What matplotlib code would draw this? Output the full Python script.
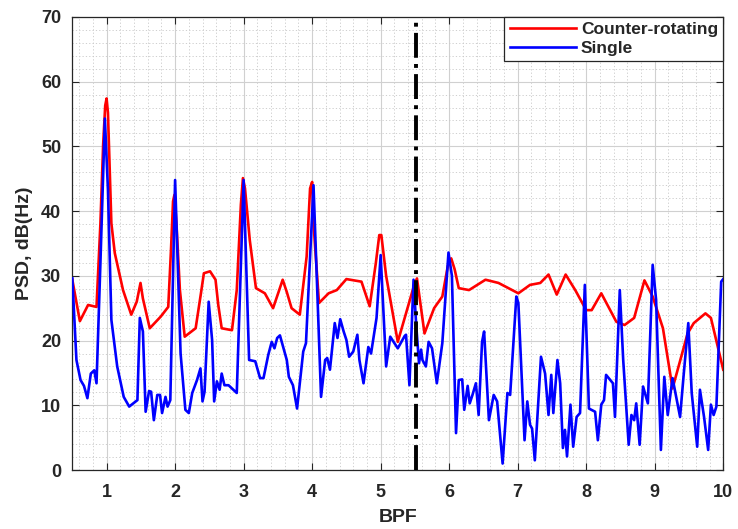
import numpy as np
import matplotlib
matplotlib.use('Agg')
import matplotlib.pyplot as plt
from matplotlib.ticker import MultipleLocator

## Values (BPF, PSD dB)
red_x = [0.50, 0.61, 0.73, 0.853, 0.91, 0.95, 0.98, 1.0, 1.02, 1.04, 1.07, 1.12, 1.24,
         1.36, 1.44, 1.495, 1.53, 1.63, 1.79, 1.90, 1.94, 1.97, 1.99, 2.02, 2.07, 2.14,
         2.30, 2.38, 2.42, 2.51, 2.59, 2.63, 2.68, 2.83, 2.90, 2.96, 2.99, 3.02, 3.09,
         3.18, 3.31, 3.43, 3.51, 3.57, 3.63, 3.70, 3.82, 3.92, 3.97, 4.0, 4.02, 4.10,
         4.24, 4.36, 4.50, 4.72, 4.84, 4.93, 4.98, 5.01, 5.08, 5.25, 5.49, 5.53, 5.64,
         5.78, 5.90, 5.98, 6.03, 6.08, 6.14, 6.29, 6.53, 6.72, 7.01, 7.18, 7.33, 7.45,
         7.57, 7.70, 7.84, 8.00, 8.08, 8.22, 8.44, 8.56, 8.70, 8.85, 8.97, 9.12, 9.26,
         9.48, 9.57, 9.74, 9.82, 10.0]
red_y = [29.4, 23.0, 25.5, 25.2, 38.1, 50.3, 56.3, 57.4, 55.2, 48.4, 38.1, 33.5, 27.8,
         24.0, 26.0, 28.9, 26.5, 21.9, 23.7, 25.2, 34.0, 41.5, 42.5, 38.0, 27.8, 20.6,
         21.9, 27.5, 30.4, 30.7, 29.4, 25.5, 21.9, 21.6, 27.8, 41.0, 45.1, 43.5, 35.5,
         28.1, 27.3, 25.0, 27.5, 29.4, 27.5, 25.0, 24.0, 33.0, 43.5, 44.5, 38.1, 25.8,
         27.3, 27.8, 29.5, 29.1, 25.3, 32.0, 36.3, 36.3, 30.0, 19.8, 28.6, 29.6, 21.1,
         25.0, 26.8, 31.5, 32.7, 31.0, 28.1, 27.8, 29.4, 28.9, 27.3, 28.6, 28.9, 30.2,
         27.1, 30.2, 27.8, 24.7, 24.7, 27.3, 22.9, 22.4, 23.5, 29.3, 26.8, 21.9, 12.6,
         21.1, 22.7, 24.2, 23.5, 15.5]

blue_x = [0.50, 0.56, 0.62, 0.67, 0.72, 0.77, 0.82, 0.853, 0.91, 0.975, 1.02, 1.07,
          1.155, 1.25, 1.33, 1.45, 1.485, 1.53, 1.57, 1.62, 1.65, 1.69, 1.74, 1.78,
          1.81, 1.86, 1.89, 1.93, 2.0, 2.08, 2.15, 2.20, 2.25, 2.32, 2.37, 2.40, 2.43,
          2.49, 2.54, 2.57, 2.61, 2.65, 2.68, 2.72, 2.78, 2.85, 2.90, 3.0, 3.08, 3.17,
          3.24, 3.29, 3.36, 3.41, 3.45, 3.49, 3.53, 3.63, 3.66, 3.72, 3.78, 3.87, 3.91,
          4.02, 4.13, 4.19, 4.22, 4.26, 4.33, 4.37, 4.41, 4.46, 4.50, 4.54, 4.60, 4.66,
          4.69, 4.75, 4.82, 4.86, 4.94, 5.0, 5.08, 5.14, 5.25, 5.35, 5.37, 5.42, 5.48,
          5.52, 5.56, 5.59, 5.61, 5.66, 5.70, 5.75, 5.82, 5.90, 5.99, 6.04, 6.10, 6.14,
          6.19, 6.22, 6.27, 6.30, 6.34, 6.39, 6.43, 6.48, 6.51, 6.58, 6.65, 6.70, 6.78,
          6.85, 6.89, 6.98, 7.01, 7.10, 7.14, 7.18, 7.21, 7.25, 7.34, 7.40, 7.45, 7.49,
          7.52, 7.58, 7.62, 7.66, 7.69, 7.72, 7.77, 7.81, 7.86, 7.91, 7.98, 8.04, 8.13,
          8.17, 8.22, 8.26, 8.29, 8.39, 8.42, 8.49, 8.54, 8.62, 8.66, 8.70, 8.73, 8.78,
          8.83, 8.90, 8.97, 9.02, 9.09, 9.14, 9.19, 9.26, 9.37, 9.42, 9.49, 9.54, 9.62,
          9.66, 9.72, 9.78, 9.82, 9.86, 9.90, 9.97, 10.0]
blue_y = [29.6, 17.0, 13.9, 13.0, 11.1, 14.9, 15.4, 13.4, 32.0, 54.3, 43.3, 23.2,
          16.0, 11.3, 9.8, 10.8, 23.5, 21.4, 9.0, 12.2, 12.1, 7.7, 11.6, 11.6,
          8.8, 11.3, 9.8, 10.8, 44.8, 18.0, 9.3, 8.8, 11.9, 13.9, 15.7, 10.6, 12.1,
          26.0, 20.1, 10.6, 13.7, 12.4, 14.9, 13.1, 13.1, 12.4, 11.9, 44.8, 17.0, 16.8,
          14.2, 14.2, 17.8, 19.8, 18.8, 20.4, 20.8, 17.0, 14.4, 13.1, 9.5, 18.3, 19.6,
          44.0, 11.3, 17.0, 17.3, 15.5, 22.7, 20.4, 23.3, 21.4, 20.1, 17.5, 18.3, 20.9,
          17.0, 13.4, 19.0, 18.0, 23.5, 33.2, 16.0, 20.6, 18.8, 20.7, 20.9, 13.1, 29.4,
          22.2, 16.5, 18.6, 17.0, 16.0, 19.8, 18.8, 13.4, 19.6, 33.6, 30.0, 5.7, 13.9,
          14.0, 9.3, 13.0, 10.3, 11.6, 13.4, 8.5, 19.8, 21.4, 7.7, 11.6, 10.6, 1.0,
          11.9, 11.6, 26.8, 25.8, 4.6, 10.6, 7.0, 6.4, 1.5, 17.5, 14.9, 8.5, 14.7,
          8.8, 17.0, 13.4, 3.4, 6.2, 2.1, 10.1, 3.6, 8.2, 8.8, 28.6, 9.5, 9.0,
          4.6, 10.1, 10.8, 14.7, 13.4, 8.2, 27.8, 17.0, 3.9, 8.5, 7.7, 10.3, 3.9,
          12.9, 10.3, 31.7, 26.3, 3.1, 14.4, 8.5, 14.2, 8.2, 14.4, 22.7, 11.9, 3.6,
          12.4, 8.2, 3.1, 10.1, 8.5, 9.8, 29.1, 29.5]

split_bpf = 5.52
labels = ['Counter-rotating', 'Single']

plt.rcParams['font.family'] = ['Liberation Sans', 'DejaVu Sans']
plt.rcParams['font.weight'] = 'bold'
dark = '#262626'

fig = plt.figure(figsize=(7.38, 5.29), dpi=100)
ax = fig.add_axes([0.098, 0.1115, 0.882, 0.8565])

ax.plot(red_x, red_y, color='#ff0000', linewidth=1.9, label=labels[0], zorder=3)
ax.plot(blue_x, blue_y, color='#0000ff', linewidth=1.9, label=labels[1], zorder=4)
ax.axvline(split_bpf, color='black', linestyle='-.', linewidth=2.8, zorder=5)

ax.set_xlim(0.5, 10)
ax.set_ylim(0, 70)
ax.xaxis.set_major_locator(MultipleLocator(1))
ax.xaxis.set_minor_locator(MultipleLocator(0.2))
ax.yaxis.set_major_locator(MultipleLocator(10))
ax.yaxis.set_minor_locator(MultipleLocator(2))

ax.grid(which='major', color='#d0d0d0', linewidth=0.8, zorder=0)
ax.grid(which='minor', color='#c8c8c8', linestyle=(0, (1.5, 2.5)), linewidth=0.6, zorder=0)
ax.set_axisbelow(True)

ax.tick_params(which='major', direction='in', length=5, width=0.8, top=True, right=True,
               colors=dark, labelsize=13)
ax.tick_params(axis='x', which='major', pad=10)
ax.tick_params(axis='y', which='major', pad=8)
ax.tick_params(which='minor', length=0, top=True, right=True)
for lbl in ax.get_xticklabels() + ax.get_yticklabels():
    lbl.set_fontweight('bold')
for sp in ax.spines.values():
    sp.set_color(dark)
    sp.set_linewidth(0.9)

ax.set_xlabel('BPF', fontsize=14, fontweight='bold', color=dark, labelpad=6)
ax.set_ylabel('PSD, dB(Hz)', fontsize=14, fontweight='bold', color=dark, labelpad=6)

leg = ax.legend(loc='upper right', borderaxespad=0, fancybox=False, framealpha=1,
                edgecolor=dark, fontsize=12.5, handlelength=3.8, handletextpad=0.3,
                labelspacing=0.2, borderpad=0.3)
leg.get_frame().set_linewidth(0.9)
for t in leg.get_texts():
    t.set_fontweight('bold')
    t.set_color(dark)

fig.savefig('out.png', dpi=100)
